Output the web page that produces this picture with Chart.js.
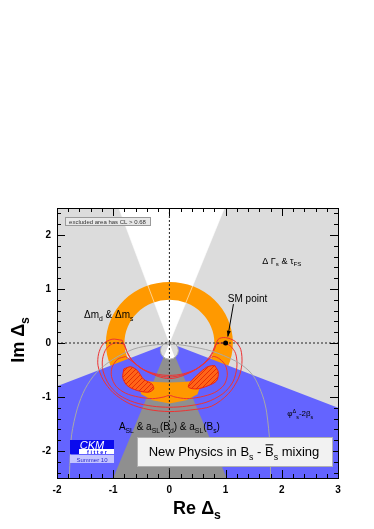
<!DOCTYPE html>
<html>
<head>
<meta charset="utf-8">
<script src="https://cdn.jsdelivr.net/npm/chart.js@4.4.1/dist/chart.umd.min.js"></script>
<style>
  html, body { margin: 0; padding: 0; background: #fff; }
</style>
</head>
<body>
<canvas id="chart" width="374" height="529"></canvas>
<script>
// axis ranges and tick positions
const xRange = [-2, 3];
const yRange = [-2.5, 2.5];
const xTickValues = [-2, -1.8, -1.6, -1.4, -1.2, -1, -0.8, -0.6, -0.4, -0.2, 0, 0.2, 0.4, 0.6, 0.8, 1,
  1.2, 1.4, 1.6, 1.8, 2, 2.2, 2.4, 2.6, 2.8, 3];
const yTickValues = [-2.4, -2.2, -2, -1.8, -1.6, -1.4, -1.2, -1, -0.8, -0.6, -0.4, -0.2, 0, 0.2, 0.4,
  0.6, 0.8, 1, 1.2, 1.4, 1.6, 1.8, 2, 2.2, 2.4];

// constraint regions (Re, Im)
const gammaCone = [[0, 0], [-0.9, 2.5], [0.98, 2.5]];
const gammaConeLow = [[0, 0], [0.9, -2.5], [-0.98, -2.5]];
const phiExcluded = [[0, 0], [-2, -0.8], [-2, -2.5], [3, -2.5], [3, -1.2]];
const aslExcluded = [[0, 0], [-1.0, -2.5], [1.02, -2.5]];
const ringCenter = [0, 0];
const ringRadii = [0.8, 1.13];
const holeCenter = [0, -0.14];
const holeRadius = 0.16;

// global fit
const fit95 = [[-0.45, -0.7], [-0.25, -0.72], [0, -0.73], [0.25, -0.72], [0.45, -0.7], [0.55, -0.8],
  [0.5, -0.95], [0.3, -1.06], [0, -1.12], [-0.3, -1.06], [-0.5, -0.95], [-0.55, -0.8]];
const fit68Left = [[-0.81, -0.48], [-0.69, -0.44], [-0.57, -0.51], [-0.46, -0.67], [-0.31, -0.76],
  [-0.28, -0.85], [-0.37, -0.91], [-0.57, -0.88], [-0.75, -0.79], [-0.83, -0.64]];
const fit68Right = [[0.81, -0.42], [0.87, -0.54], [0.84, -0.7], [0.69, -0.79], [0.49, -0.85],
  [0.34, -0.82], [0.37, -0.73], [0.52, -0.57], [0.66, -0.45], [0.75, -0.42]];
const contour1 = [[-0.78, -0.25], [-0.92, -0.3], [-1.02, -0.45], [-1.03, -0.62], [-0.95, -0.8],
  [-0.78, -0.93], [-0.55, -1.0], [-0.3, -1.03], [-0.1, -1.0], [0, -0.97], [0.1, -1.0], [0.3, -1.03],
  [0.55, -1.0], [0.8, -0.92], [0.97, -0.78], [1.03, -0.6], [1.0, -0.42], [0.9, -0.3], [0.78, -0.25],
  [0.65, -0.35], [0.45, -0.5], [0.2, -0.62], [0, -0.66], [-0.2, -0.62], [-0.45, -0.5], [-0.65, -0.35]];
const contour2 = [[-0.8, -0.02], [-0.98, 0.0], [-1.12, -0.1], [-1.19, -0.3], [-1.18, -0.52],
  [-1.08, -0.76], [-0.9, -0.96], [-0.62, -1.1], [-0.3, -1.17], [0, -1.19], [0.3, -1.17], [0.65, -1.1],
  [0.95, -0.94], [1.13, -0.72], [1.2, -0.45], [1.18, -0.2], [1.08, -0.05], [0.95, 0.0], [0.83, -0.03],
  [0.75, -0.2], [0.62, -0.37], [0.42, -0.52], [0.2, -0.6], [0, -0.63], [-0.2, -0.6], [-0.42, -0.52],
  [-0.62, -0.37], [-0.74, -0.2]];
const contour3 = [[-0.84, 0.05], [-1.02, 0.07], [-1.18, -0.02], [-1.26, -0.2], [-1.27, -0.42],
  [-1.18, -0.68], [-1.0, -0.92], [-0.72, -1.12], [-0.38, -1.23], [0, -1.27], [0.38, -1.24],
  [0.75, -1.17], [1.05, -0.94], [1.23, -0.65], [1.29, -0.38], [1.27, -0.12], [1.17, 0.03], [1.0, 0.1],
  [0.87, 0.07], [0.8, -0.12], [0.7, -0.3], [0.5, -0.47], [0.25, -0.57], [0, -0.6], [-0.25, -0.57],
  [-0.5, -0.47], [-0.68, -0.3], [-0.78, -0.1]];
const aslCurve = [[-1.78, -2.5], [-1.77, -2.2], [-1.74, -1.7], [-1.64, -1.22], [-1.5, -0.85],
  [-1.3, -0.55], [-1.0, -0.3], [-0.63, -0.11], [-0.3, -0.04], [0, -0.02], [0.3, -0.05], [0.75, -0.15],
  [1.17, -0.33], [1.4, -0.5], [1.53, -0.67], [1.66, -0.98], [1.73, -1.28], [1.79, -1.9], [1.8, -2.5]];
const smPoint = [[1, 0]];
const smArrow = [[1.14, 0.72], [1.04, 0.12]];

const FONT = '"Liberation Sans", Arial, sans-serif';
const pts = a => a.map(([x, y]) => ({ x, y }));
const closed = a => pts(a.concat([a[0]]));

const hatch = (() => {
  const c = document.createElement('canvas');
  c.width = 5; c.height = 5;
  const g = c.getContext('2d');
  g.fillStyle = '#ff6418';
  g.fillRect(0, 0, 5, 5);
  g.strokeStyle = '#dd2200';
  g.lineWidth = 0.8;
  g.beginPath();
  g.moveTo(0, 5); g.lineTo(5, 0);
  g.moveTo(-1, 1); g.lineTo(1, -1);
  g.moveTo(4, 6); g.lineTo(6, 4);
  g.stroke();
  return g.createPattern(c, 'repeat');
})();

const area = (data, color, extra) => Object.assign({
  data: closed(data), fill: 'shape', backgroundColor: color, borderWidth: 0,
  pointRadius: 0, tension: 0
}, extra || {});
const curve = (data, color, extra) => Object.assign({
  data: pts(data), fill: false, borderColor: color, borderWidth: 1, pointRadius: 0, tension: 0
}, extra || {});

const datasets = [
  area(gammaCone, '#ffffff'),                                 // 0
  area(phiExcluded, '#6464ff'),                               // 1
  area(aslExcluded, '#8f8f8f'),                               // 2
  area(fit95, '#ff9900'),                                     // 3
  area(fit68Left, hatch, { borderWidth: 1, borderColor: '#ee2211', tension: 0.3 }),
  area(fit68Right, hatch, { borderWidth: 1, borderColor: '#ee2211', tension: 0.3 }),
  curve(contour1.concat([contour1[0]]), '#ee3333', { tension: 0.3 }),
  curve(contour2.concat([contour2[0]]), '#ee3333', { tension: 0.3 }),
  curve(contour3.concat([contour3[0]]), '#ee3333', { tension: 0.3 }),
  curve(aslCurve, '#a8a8a8', { tension: 0.3 }),
  curve([[0, yRange[0]], [0, yRange[1]]], '#222', { borderDash: [2, 2] }),
  curve([[xRange[0], 0], [xRange[1], 0]], '#222', { borderDash: [2, 2] }),
  { data: pts(smPoint), showLine: false, pointRadius: 2.5, backgroundColor: '#000', borderWidth: 0 }
];
datasets.forEach((d, i) => { d.order = -i; });

const toPx = (chart, x, y) => [chart.scales.x.getPixelForValue(x), chart.scales.y.getPixelForValue(y)];
const unit = chart => [
  chart.scales.x.getPixelForValue(1) - chart.scales.x.getPixelForValue(0),
  chart.scales.y.getPixelForValue(0) - chart.scales.y.getPixelForValue(1)
];

// rich text: parts of [text, kind] where kind is n / sub / sup / bar
function richWidth(ctx, parts, size, weight) {
  let w = 0;
  parts.forEach(([t, k]) => {
    const s = (k === 'sub' || k === 'sup') ? size * 0.68 : size;
    ctx.font = `${weight} ${s}px ${FONT}`;
    w += ctx.measureText(t).width;
  });
  return w;
}
function drawRich(ctx, parts, x, y, size, opts) {
  const o = Object.assign({ weight: 'normal', align: 'center', color: '#000' }, opts || {});
  let cx = x;
  const w = richWidth(ctx, parts, size, o.weight);
  if (o.align === 'center') cx -= w / 2;
  if (o.align === 'right') cx -= w;
  ctx.fillStyle = o.color;
  ctx.strokeStyle = o.color;
  ctx.textBaseline = 'alphabetic';
  ctx.textAlign = 'left';
  parts.forEach(([t, k]) => {
    const small = k === 'sub' || k === 'sup';
    const s = small ? size * 0.68 : size;
    ctx.font = `${o.weight} ${s}px ${FONT}`;
    const dy = k === 'sub' ? size * 0.3 : k === 'sup' ? -size * 0.42 : 0;
    ctx.fillText(t, cx, y + dy);
    const tw = ctx.measureText(t).width;
    if (k === 'bar') {
      ctx.lineWidth = 1;
      ctx.beginPath();
      ctx.moveTo(cx + 0.5, y - size * 0.86);
      ctx.lineTo(cx + tw - 0.5, y - size * 0.86);
      ctx.stroke();
    }
    cx += tw;
  });
}

const labels = [
  { at: [2.0, 1.47], size: 9, parts: [['Δ Γ', 'n'], ['s', 'sub'], [' & τ', 'n'], ['FS', 'sub']] },
  { at: [-1.08, 0.47], size: 10, parts: [['Δm', 'n'], ['d', 'sub'], [' & Δm', 'n'], ['s', 'sub']] },
  { at: [1.39, 0.76], size: 10, parts: [['SM point', 'n']] },
  { at: [2.33, -1.36], size: 8, parts: [['φ', 'n'], ['Δ', 'sup'], ['s', 'sub'], ['-2β', 'n'], ['s', 'sub']] },
  { at: [0, -1.62], size: 10, parts: [['A', 'n'], ['SL', 'sub'], [' & a', 'n'], ['SL', 'sub'], ['(B', 'n'],
    ['d', 'sub'], [') & a', 'n'], ['SL', 'sub'], ['(B', 'n'], ['s', 'sub'], [')', 'n']] }
];

const decor = {
  id: 'decor',
  beforeDatasetsDraw(chart) {
    const { ctx, chartArea: a } = chart;
    ctx.save();
    ctx.fillStyle = '#dcdcdc';
    ctx.fillRect(a.left, a.top, a.right - a.left, a.bottom - a.top);
    ctx.restore();
  },
  afterDatasetDraw(chart, args) {
    const { ctx, chartArea: a } = chart;
    const [kx, ky] = unit(chart);
    ctx.save();
    ctx.beginPath();
    ctx.rect(a.left, a.top, a.right - a.left, a.bottom - a.top);
    ctx.clip();
    if (args.index === 0) {
      // Δm ring
      const [cx, cy] = toPx(chart, ringCenter[0], ringCenter[1]);
      ctx.beginPath();
      ctx.ellipse(cx, cy, ringRadii[1] * kx, ringRadii[1] * ky, 0, 0, Math.PI * 2);
      ctx.moveTo(cx + ringRadii[0] * kx, cy);
      ctx.ellipse(cx, cy, ringRadii[0] * kx, ringRadii[0] * ky, 0, 0, Math.PI * 2);
      ctx.fillStyle = '#ff9900';
      ctx.fill('evenodd');
      ctx.strokeStyle = 'rgba(255,255,255,0.55)';
      ctx.lineWidth = 1;
      ctx.beginPath();
      const o = toPx(chart, 0, 0);
      [gammaCone[1], gammaCone[2]].forEach(p => {
        const q = toPx(chart, p[0], p[1]);
        ctx.moveTo(o[0], o[1]); ctx.lineTo(q[0], q[1]);
      });
      ctx.stroke();
    }
    if (args.index === 2) {
      const [cx, cy] = toPx(chart, holeCenter[0], holeCenter[1]);
      ctx.beginPath();
      ctx.ellipse(cx, cy, holeRadius * kx, holeRadius * ky, 0, 0, Math.PI * 2);
      ctx.save();
      ctx.clip();
      ctx.fillStyle = '#dcdcdc';
      ctx.fillRect(cx - 30, cy - 30, 60, 60);
      ctx.fillStyle = '#fff';
      ctx.beginPath();
      gammaConeLow.forEach((p, i) => {
        const q = toPx(chart, p[0], p[1]);
        i ? ctx.lineTo(q[0], q[1]) : ctx.moveTo(q[0], q[1]);
      });
      ctx.fill();
      ctx.restore();
      ctx.beginPath();
      ctx.ellipse(cx, cy, holeRadius * kx, holeRadius * ky, 0, 0, Math.PI * 2);
      ctx.strokeStyle = '#a8a8a8';
      ctx.lineWidth = 1;
      ctx.stroke();
    }
    ctx.restore();
  },
  afterDatasetsDraw(chart) {
    const { ctx, chartArea: a, scales } = chart;
    ctx.save();
    // ticks on all four sides
    ctx.strokeStyle = '#000';
    ctx.lineWidth = 1;
    ctx.beginPath();
    scales.x.ticks.forEach(t => {
      const x = Math.round(scales.x.getPixelForValue(t.value)) + 0.5;
      const len = Number.isInteger(Math.round(t.value * 1000) / 1000) ? 8 : 4;
      ctx.moveTo(x, a.bottom); ctx.lineTo(x, a.bottom - len);
      ctx.moveTo(x, a.top); ctx.lineTo(x, a.top + len);
    });
    scales.y.ticks.forEach(t => {
      const y = Math.round(scales.y.getPixelForValue(t.value)) + 0.5;
      const len = Number.isInteger(Math.round(t.value * 1000) / 1000) ? 8 : 4;
      ctx.moveTo(a.left, y); ctx.lineTo(a.left + len, y);
      ctx.moveTo(a.right, y); ctx.lineTo(a.right - len, y);
    });
    ctx.stroke();
    ctx.strokeRect(Math.round(a.left) + 0.5, Math.round(a.top) + 0.5,
      Math.round(a.right - a.left), Math.round(a.bottom - a.top));

    // SM arrow
    const s = toPx(chart, smArrow[0][0], smArrow[0][1]);
    const e = toPx(chart, smArrow[1][0], smArrow[1][1]);
    ctx.beginPath();
    ctx.moveTo(s[0], s[1]); ctx.lineTo(e[0], e[1]);
    ctx.stroke();
    const ang = Math.atan2(e[1] - s[1], e[0] - s[0]);
    ctx.beginPath();
    ctx.moveTo(e[0], e[1]);
    ctx.lineTo(e[0] - 6 * Math.cos(ang - 0.35), e[1] - 6 * Math.sin(ang - 0.35));
    ctx.lineTo(e[0] - 6 * Math.cos(ang + 0.35), e[1] - 6 * Math.sin(ang + 0.35));
    ctx.closePath();
    ctx.fillStyle = '#000';
    ctx.fill();

    labels.forEach(l => {
      const p = toPx(chart, l.at[0], l.at[1]);
      drawRich(ctx, l.parts, p[0], p[1], l.size);
    });

    // CL legend box
    ctx.fillStyle = '#e8e8e8';
    ctx.fillRect(65, 217, 85, 8);
    ctx.strokeStyle = '#9a9a9a';
    ctx.strokeRect(65.5, 217.5, 85, 8);
    drawRich(ctx, [['excluded area has CL > 0.68', 'n']], 107.5, 223.5, 6, { color: '#333' });

    // title box
    ctx.fillStyle = '#f2f2f2';
    ctx.fillRect(137, 437, 195, 29);
    ctx.strokeStyle = '#b0b0b0';
    ctx.strokeRect(137.5, 437.5, 195, 29);
    drawRich(ctx, [['New Physics in B', 'n'], ['s', 'sub'], [' - ', 'n'], ['B', 'bar'], ['s', 'sub'],
      [' mixing', 'n']], 234, 456, 13);

    // CKMfitter logo
    ctx.fillStyle = '#0a0aee';
    ctx.fillRect(70, 440, 44, 14);
    ctx.fillStyle = '#fff';
    ctx.fillRect(79, 449, 35, 5);
    drawRich(ctx, [['CKM', 'n']], 92, 449, 11, { weight: 'italic', color: '#fff' });
    drawRich(ctx, [['f i t t e r', 'n']], 97, 453.5, 5.5, { weight: 'bold', color: '#0a0aee' });
    ctx.fillStyle = '#c4c4ff';
    ctx.fillRect(70, 455, 44, 8);
    drawRich(ctx, [['Summer 10', 'n']], 92, 461.5, 6, { color: '#2a2acc' });

    // axis titles
    drawRich(ctx, [['Re Δ', 'n'], ['s', 'sub']], 197, 514, 18, { weight: 'bold' });
    ctx.translate(24, 340);
    ctx.rotate(-Math.PI / 2);
    drawRich(ctx, [['Im Δ', 'n'], ['s', 'sub']], 0, 0, 18, { weight: 'bold' });
    ctx.restore();
  }
};

const isInt = v => Math.abs(v - Math.round(v)) < 1e-6;
const tickFont = { family: FONT, size: 10, weight: 'bold' };

new Chart(document.getElementById('chart'), {
  type: 'line',
  data: { datasets },
  options: {
    responsive: false,
    animation: false,
    events: [],
    layout: { padding: { left: 0, right: 36, top: 208, bottom: 0 } },
    plugins: { legend: { display: false }, tooltip: { enabled: false } },
    scales: {
      x: {
        type: 'linear', min: xRange[0], max: xRange[1],
        afterBuildTicks: s => { s.ticks = xTickValues.map(v => ({ value: v })); },
        afterFit: s => { s.height = 51; },
        grid: { display: false, drawTicks: false },
        border: { display: false },
        ticks: { callback: v => isInt(v) ? String(Math.round(v)) : '', font: tickFont, color: '#000',
          padding: 6, maxRotation: 0, autoSkip: false }
      },
      y: {
        type: 'linear', min: yRange[0], max: yRange[1],
        afterBuildTicks: s => { s.ticks = yTickValues.map(v => ({ value: v })); },
        afterFit: s => { s.width = 57; },
        grid: { display: false, drawTicks: false },
        border: { display: false },
        ticks: { callback: v => isInt(v) ? String(Math.round(v)) : '', font: tickFont, color: '#000',
          padding: 6, autoSkip: false }
      }
    }
  },
  plugins: [decor]
});
</script>
</body>
</html>
